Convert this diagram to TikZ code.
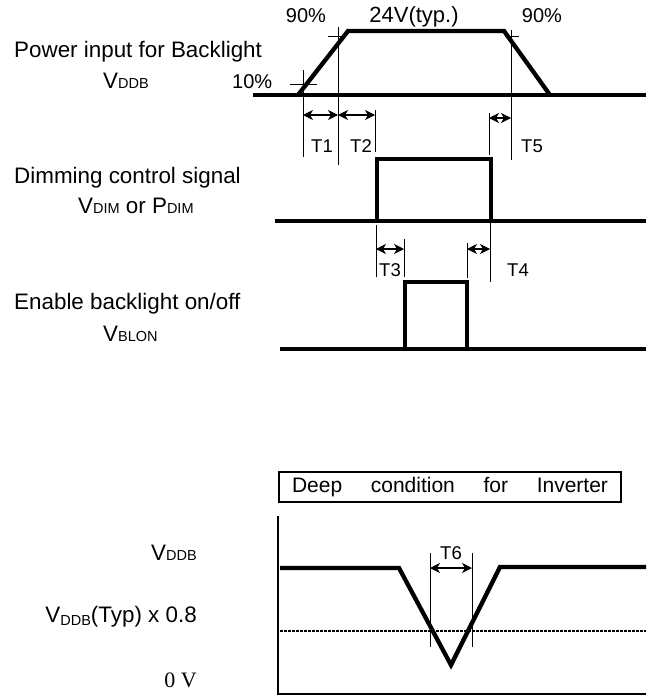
\documentclass[tikz,border=0pt]{standalone}
\usepackage{fontspec}
\setmainfont{Liberation Sans}
\newfontfamily\serifnum{Liberation Serif}
\usetikzlibrary{arrows.meta}
\newcommand\smsub[1]{{\fontsize{14.5}{15}\selectfont #1}}
\begin{document}
\begin{tikzpicture}[x=1pt,y=-1pt,
  sig/.style={line width=4.3pt, line join=miter},
  guide/.style={line width=0.7pt},
  axisline/.style={line width=1.3pt},
  dimarrow/.style={line width=1.1pt, {Stealth[length=10pt,width=10pt,inset=3pt]}-{Stealth[length=10pt,width=10pt,inset=3pt]}},
  big/.style={font=\fontsize{22.4}{24}\selectfont, inner sep=0pt},
  pct/.style={font=\fontsize{20}{22}\selectfont, inner sep=0pt, anchor=base},
  tlbl/.style={font=\fontsize{18.5}{20}\selectfont, inner sep=0pt, anchor=base},
]
\useasboundingbox (0,0) rectangle (646,696);

% ---------- labels left ----------
\node[big, anchor=base west] (lpow) at (14,57) {Power input for Backlight};
\node[big, anchor=base west] (lvddb) at (103,88) {V\smsub{DDB}};
\node[big, anchor=base west] (ldim) at (14,183) {Dimming control signal};
\node[big, anchor=base west] (lvdim) at (78,213) {V\smsub{DIM} or P\smsub{DIM}};
\node[big, anchor=base west] (len) at (14,309) {Enable backlight on/off};
\node[big, anchor=base west] (lblon) at (103,341) {V\smsub{BLON}};

% ---------- power signal ----------
\draw[sig] (253,95) -- (646,95);
\draw[sig] (298,95) -- (348,31) -- (504,31) -- (550,95);
\node[pct] (p90l) at (306,22) {90\%};
\node[font=\fontsize{22}{24}\selectfont, inner sep=0pt, anchor=base] (p24) at (414,22) {24V(typ.)};
\node[pct] (p90r) at (542,22) {90\%};
\node[pct, anchor=base west] (p10) at (232,88) {10\%};
% ticks
\draw[guide] (290,84) -- (317,84);
\draw[guide] (328,36) -- (344,36);
\draw[guide] (505,36) -- (519,36);
% guide lines
\coordinate (g1t) at (303,70);  \coordinate (g1b) at (303,157);
\coordinate (g2t) at (338,27);  \coordinate (g2b) at (338,165);
\coordinate (g3t) at (375,110); \coordinate (g3b) at (375,152);
\coordinate (g4t) at (489,113); \coordinate (g4b) at (489,155);
\coordinate (g5t) at (511,30);  \coordinate (g5b) at (511,160);
\draw[guide] (g1t) -- (g1b);
\draw[guide] (g2t) -- (g2b);
\draw[guide] (g3t) -- (g3b);
\draw[guide] (g4t) -- (g4b);
\draw[guide] (g5t) -- (g5b);
\coordinate (a1) at (303,115); \coordinate (a2) at (338,115); \coordinate (a3) at (375,115);
\coordinate (a4) at (489,118); \coordinate (a5) at (511,118);
\draw[dimarrow] (a1) -- (a2);
\draw[dimarrow] (a2) -- (a3);
\draw[dimarrow] (a4) -- (a5);
\node[tlbl] (t1) at (322,152) {T1};
\node[tlbl] (t2) at (361,152) {T2};
\node[tlbl] (t5) at (532,152) {T5};

% ---------- dimming signal ----------
\draw[sig] (275,221) -- (646,221);
\draw[sig] (377,221) -- (377,159) -- (491,159) -- (491,221);
\coordinate (h1t) at (376,225); \coordinate (h1b) at (376,277);
\coordinate (h2t) at (404,239); \coordinate (h2b) at (404,277);
\coordinate (h3t) at (467,243); \coordinate (h3b) at (467,278);
\coordinate (h4t) at (490,223); \coordinate (h4b) at (490,282);
\draw[guide] (h1t) -- (h1b);
\draw[guide] (h2t) -- (h2b);
\draw[guide] (h3t) -- (h3b);
\draw[guide] (h4t) -- (h4b);
\coordinate (b1) at (376,249); \coordinate (b2) at (404,249);
\coordinate (b3) at (467,249); \coordinate (b4) at (490,249);
\draw[dimarrow] (b1) -- (b2);
\draw[dimarrow] (b3) -- (b4);
\node[tlbl] (t3) at (390,276) {T3};
\node[tlbl] (t4) at (518,276) {T4};

% ---------- blon signal ----------
\draw[sig] (280,349) -- (646,349);
\draw[sig] (405,349) -- (405,282) -- (467,282) -- (467,349);

% ---------- deep condition ----------
\node[draw, line width=2.5pt, minimum width=342pt, minimum height=30pt, inner sep=0pt,
      font=\fontsize{21}{22}\selectfont] (deep) at (450,487)
      {\makebox[316pt][s]{Deep condition for Inverter}};
\coordinate (ax0) at (278,516);
\coordinate (ax1) at (278,694);
\coordinate (ax2) at (646,694);
\draw[axisline] (ax0) -- (ax1) -- (ax2);
\draw[line width=2pt, dash pattern=on 2.5pt off 1.5pt] (280,631) -- (646,631);
\draw[sig] (280,568) -- (399,568) -- (451,665) -- (500,567) -- (646,567);
\coordinate (k1t) at (430,553); \coordinate (k1b) at (430,647);
\coordinate (k2t) at (472,553); \coordinate (k2b) at (472,647);
\draw[guide] (k1t) -- (k1b);
\draw[guide] (k2t) -- (k2b);
\coordinate (c1) at (430,568); \coordinate (c2) at (472,568);
\draw[dimarrow] (c1) -- (c2);
\node[tlbl] (t6) at (451,559) {T6};

\node[big, anchor=base east] (rvddb) at (197,560) {V\smsub{DDB}};
\node[big, anchor=base east] (rtyp) at (197,622) {V\raisebox{-3.5pt}{\smsub{DDB}}(Typ) x 0.8};
\node[font=\fontsize{22}{24}\selectfont\serifnum, inner sep=0pt, anchor=base east] (rzero) at (197,687) {0 V};
\end{tikzpicture}
\end{document}
